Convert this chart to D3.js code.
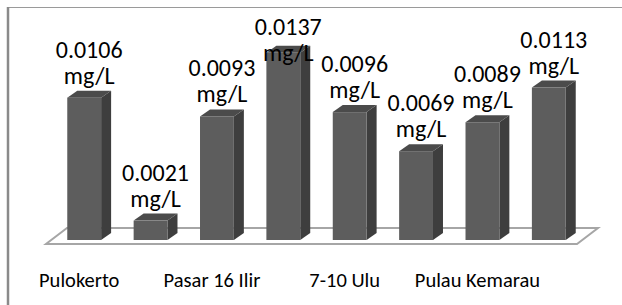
<!DOCTYPE html>
<html>
<head>
<meta charset="utf-8">
<script src="https://cdn.jsdelivr.net/npm/d3@7"></script>
<style>
  body { margin: 0; background: #fff; }
  svg text { font-family: Calibri, Carlito, "Open Sans", sans-serif; fill: #000; }
</style>
</head>
<body>
<div id="chart"></div>
<script>
// sampling sites (only every other one is labelled on the axis)
var sites = ["Pulokerto", "", "Pasar 16 Ilir", "", "7-10 Ulu", "", "Pulau Kemarau", ""];
var values = [0.0106, 0.0021, 0.0093, 0.0137, 0.0096, 0.0069, 0.0089, 0.0113];
var unit = "mg/L";

var width = 622, height = 305;

var svg = d3.select("#chart").append("svg")
    .attr("width", width)
    .attr("height", height);

// chart frame (cut off at right and bottom)
svg.append("line").attr("x1", 8).attr("x2", width).attr("y1", 7.5).attr("y2", 7.5)
    .attr("stroke", "#9a9a9a").attr("stroke-width", 1);
svg.append("line").attr("x1", 8).attr("x2", 8).attr("y1", 7).attr("y2", height)
    .attr("stroke", "#8a8a8a").attr("stroke-width", 2.5);

var x = d3.scaleBand()
    .domain(d3.range(values.length))
    .range([46, 577])
    .paddingInner(0.49)
    .paddingOuter(0.245);

// zero plane sits a bit below the front edge of the floor (3D projection)
var y = d3.scaleLinear()
    .domain([0, 0.015])
    .range([251, 34]);

var floorY = 240, dx = 10, dy = 7;
var bw = x.bandwidth();

// floor
var fl = [[46, 244], [577, 244], [598, 228], [67, 228]];
svg.append("polygon")
    .attr("points", fl.map(function(p) { return p.join(","); }).join(" "))
    .attr("fill", "#fff")
    .attr("stroke", "#a6a6a6")
    .attr("stroke-width", 2);

var bars = svg.selectAll("g.bar")
    .data(values)
    .enter()
    .append("g")
    .attr("class", "bar");

function x0(i) { return x(i) + dx / 2; }

// side face
bars.append("polygon")
    .attr("points", function(d, i) {
      var l = x0(i) + bw, t = y(d);
      return [[l, t], [l + dx, t - dy], [l + dx, floorY - dy], [l, floorY]].join(" ");
    })
    .attr("fill", "#3e3e3e");

// top face
bars.append("polygon")
    .attr("points", function(d, i) {
      var l = x0(i), t = y(d);
      return [[l, t], [l + dx, t - dy], [l + bw + dx, t - dy], [l + bw, t]].join(" ");
    })
    .attr("fill", "#4b4b4b");

// front face
bars.append("rect")
    .attr("x", function(d, i) { return x0(i); })
    .attr("y", function(d) { return y(d); })
    .attr("width", bw)
    .attr("height", function(d) { return floorY - y(d); })
    .attr("fill", "#5d5d5d");

// data labels
var labels = svg.selectAll("text.lbl")
    .data(values)
    .enter()
    .append("text")
    .attr("class", "lbl")
    .attr("text-anchor", "middle")
    .attr("font-size", "24px");

function lblY(d) { return Math.max(y(d) - 40, 35); }

labels.append("tspan")
    .attr("x", function(d, i) { return x0(i) + (bw + dx) / 2; })
    .attr("y", lblY)
    .text(function(d) { return d.toFixed(4); });

labels.append("tspan")
    .attr("x", function(d, i) { return x0(i) + (bw + dx) / 2; })
    .attr("y", function(d) { return lblY(d) + 26; })
    .text(unit);

// category axis
var axis = d3.axisBottom(x)
    .tickValues(d3.range(0, sites.length, 2))
    .tickFormat(function(i) { return sites[i]; })
    .tickSize(0)
    .tickPadding(3);

var gx = svg.append("g")
    .attr("transform", "translate(0,269)")
    .call(axis);
gx.select(".domain").remove();
gx.selectAll("text")
    .attr("font-size", "20.5px")
    .style("font-family", "Calibri, Carlito, 'Open Sans', sans-serif")
    .attr("fill", "#000");
</script>
</body>
</html>
